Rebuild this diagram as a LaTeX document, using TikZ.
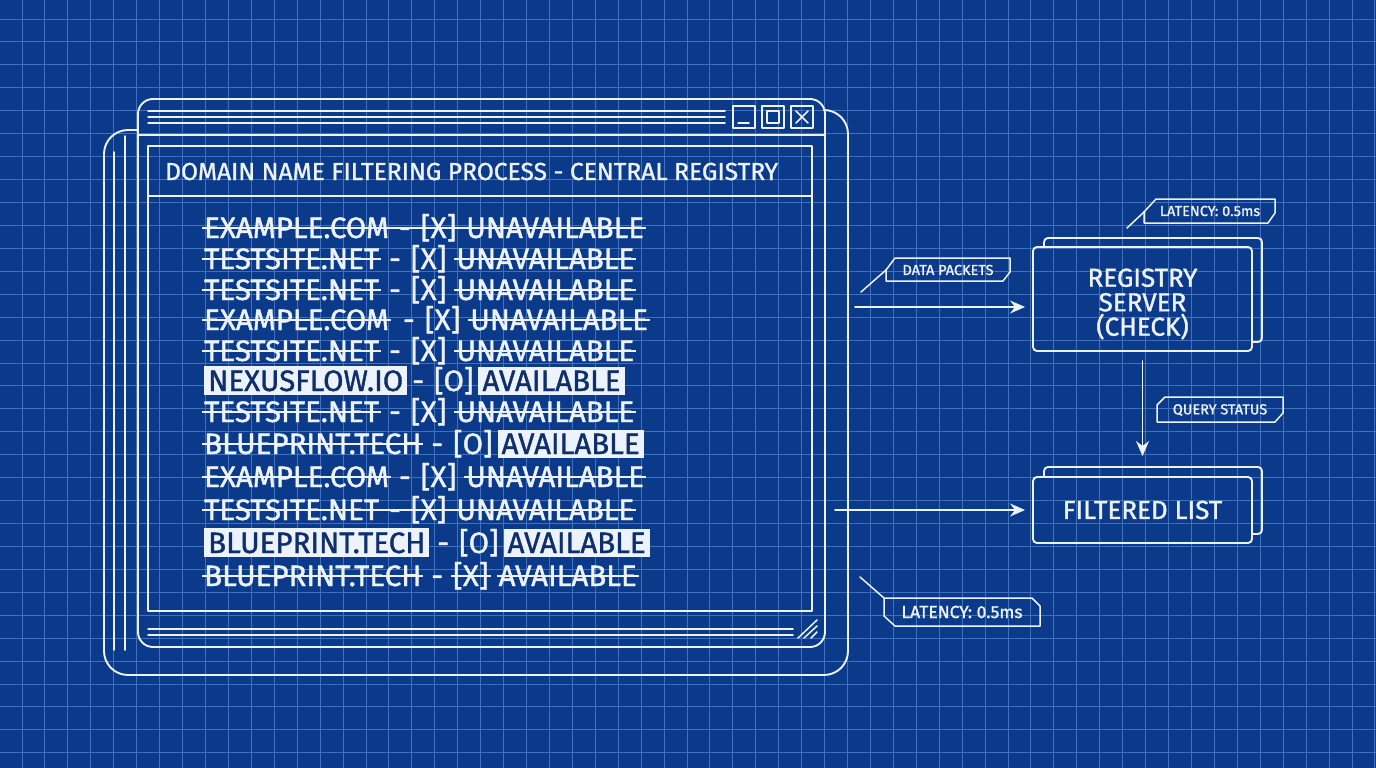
\documentclass[tikz,border=0pt]{standalone}
\usepackage{fontspec}
\setmainfont{Fira Sans}[FakeBold=1.2]
\usetikzlibrary{arrows.meta,calc}
\definecolor{bgblue}{RGB}{12,58,138}
\definecolor{gridblue}{RGB}{64,112,192}
\definecolor{ink}{RGB}{236,243,255}
\definecolor{darkink}{RGB}{14,46,108}
\newcommand\stk[1]{\setbox0=\hbox{#1}\rlap{\kern-2pt\color{ink}\rule[0.31em]{\dimexpr\wd0+4pt\relax}{1.9pt}}\box0\relax}
\newcommand\hlt[1]{{\fboxsep=4pt\colorbox{ink}{\color{darkink}#1}}}
\newcommand\sep{\hspace{10pt}}
\newcommand\hsep{\hspace{5pt}}
\begin{document}
\begin{tikzpicture}[x=1pt,y=-1pt,line join=round,line cap=round,
  wline/.style={draw=ink,line width=1.9pt},
  tline/.style={draw=ink,line width=1.5pt},
  gridline/.style={draw=gridblue,line width=0.9pt},
  arr/.style={draw=ink,line width=1.7pt,-{Stealth[length=15pt,width=13pt]}},
  rowtxt/.style={text=ink,font=\fontsize{29.5}{29.5}\selectfont,inner sep=0pt,anchor=base west},
  tagtxt/.style={text=ink,font=\fontsize{14.5}{14.5}\selectfont,inner sep=0pt},
  boxtxt/.style={text=ink,font=\fontsize{26}{24.5}\selectfont,align=center,inner sep=0pt},
  serverbox/.style={draw=ink,line width=1.9pt,rounded corners=4pt,minimum width=219pt,inner sep=0pt}
]
\useasboundingbox (0,0) rectangle (1376,768);
\fill[bgblue] (0,0) rectangle (1376,768);
% grid
\foreach \k in {-1,...,59} \draw[gridline] ({22+22.93*\k},0) -- ({22+22.93*\k},768);
\foreach \k in {-1,...,33} \draw[gridline] (0,{19+22.93*\k}) -- (1376,{19+22.93*\k});

% ---------- window ----------
\draw[wline,rounded corners=24pt] (138,130) -- (104,130) -- (104,675) -- (848,675) -- (848,110) -- (825,110);
\draw[tline] (114,152) -- (114,650);
\draw[tline] (125,136) -- (125,650);
\draw[wline,rounded corners=15pt] (138,99) rectangle (825,647);
\foreach \yy in {111,117,123} \draw[tline] (148,\yy) -- (725,\yy);
\draw[tline] (733,106) rectangle (755,128);
\draw[tline] (738,123) -- (749,123);
\draw[tline] (762,106) rectangle (784,128);
\draw[tline] (767,111) rectangle (779,123);
\draw[tline] (791,106) rectangle (813,128);
\draw[tline] (796,111) -- (808,123);
\draw[tline] (808,111) -- (796,123);
\draw[wline] (138,135) -- (825,135);
\draw[wline] (148,146) rectangle (812,611);
\draw[wline] (148,196) -- (812,196);
\draw[tline] (148,629) -- (793,629);
\draw[tline] (148,635) -- (793,635);
\draw[tline] (798,638) -- (817,620);
\draw[tline] (804,638) -- (817,626);
\draw[tline] (811,638) -- (817,632);

\node[anchor=base west,text=ink,font=\fontsize{24.6}{24.6}\selectfont,inner sep=0pt] (title) at (165,180) {DOMAIN NAME FILTERING PROCESS - CENTRAL REGISTRY};

% rows
\node[rowtxt] (r1) at (204,238) {\stk{EXAMPLE.COM\sep-\sep[X]\sep UNAVAILABLE}};
\node[rowtxt] (r2) at (204,269) {\stk{TESTSITE.NET}\sep-\sep[X]\sep\stk{UNAVAILABLE}};
\node[rowtxt] (r3) at (204,300) {\stk{TESTSITE.NET}\sep-\sep[X]\sep\stk{UNAVAILABLE}};
\node[rowtxt] (r4) at (204,330) {\stk{EXAMPLE.COM}\sep\hspace{4pt}-\sep[X]\sep\stk{UNAVAILABLE}};
\node[rowtxt] (r5) at (204,361) {\stk{TESTSITE.NET}\sep-\sep[X]\sep\stk{UNAVAILABLE}};
\node[rowtxt] (r6) at (204,391) {\hlt{NEXUSFLOW.IO}\hsep-\sep[O]\hsep\hlt{AVAILABLE}};
\node[rowtxt] (r7) at (204,422) {\stk{TESTSITE.NET}\sep-\sep[X]\sep\stk{UNAVAILABLE}};
\node[rowtxt] (r8) at (204,454) {\stk{BLUEPRINT.TECH}\sep-\sep[O]\hsep\hlt{AVAILABLE}};
\node[rowtxt] (r9) at (204,487) {\stk{EXAMPLE.COM}\sep-\sep[X]\sep\stk{UNAVAILABLE}};
\node[rowtxt] (r10) at (204,520) {\stk{TESTSITE.NET\sep-\sep[X]\sep UNAVAILABLE}};
\node[rowtxt] (r11) at (204,553) {\hlt{BLUEPRINT.TECH}\hsep\hspace{3pt}-\sep[O]\hsep\hlt{AVAILABLE}};
\node[rowtxt] (r12) at (204,586) {\stk{BLUEPRINT.TECH}\sep-\sep\stk{[X]}\sep\stk{AVAILABLE}};

% ---------- right side ----------
\draw[wline,rounded corners=4pt] (1044,247) -- (1044,238) -- (1262,238) -- (1262,342) -- (1252,342);
\node[serverbox,minimum height=104pt] (reg) at (1142.5,299) {};
\node[boxtxt] (regtxt) at (1142.5,304) {REGISTRY\\SERVER\\(CHECK)};
\draw[wline,rounded corners=4pt] (1044,477) -- (1044,467) -- (1262,467) -- (1262,534) -- (1252,534);
\node[serverbox,minimum height=66pt] (flt) at (1142.5,510) {};
\node[boxtxt,font=\fontsize{26}{26}\selectfont] (flttxt) at (1142.5,510) {FILTERED LIST};

% tags
\draw[tline] (1144,223) -- (1144,212) -- (1156,199) -- (1275,199) -- (1275,213) -- (1268,223) -- cycle;
\coordinate (lat1lead) at (1127,228);
\draw[tline] (lat1lead) -- (1144,212);
\node[tagtxt] (lat1) at (1210,211) {LATENCY: 0.5ms};

\draw[tline] (886,281) -- (886,270) -- (895,258) -- (1010,258) -- (1010,272) -- (1003,281) -- cycle;
\coordinate (dplead) at (861,292);
\draw[tline] (dplead) -- (886,270);
\node[tagtxt] (dp) at (948,270) {DATA PACKETS};

\draw[tline] (1157,422) -- (1157,405) -- (1165,397) -- (1283,397) -- (1283,413) -- (1275,422) -- cycle;
\node[tagtxt] (qs) at (1220,410) {QUERY STATUS};

\draw[tline] (884,598) -- (1032,598) -- (1040,606) -- (1040,626) -- (895,626) -- (884,616) -- cycle;
\coordinate (lat2lead) at (860,577);
\draw[tline] (lat2lead) -- (884,598);
\node[tagtxt,font=\fontsize{17.5}{17.5}\selectfont] (lat2) at (962,612) {LATENCY: 0.5ms};

% arrows
\coordinate (dpstart) at (855,307);
\draw[arr,shorten >=7pt] (dpstart) -- (dpstart -| reg.west);
\draw[arr,shorten <=9pt,shorten >=20pt] (reg.south) -- (flt.north);
\coordinate (flstart) at (835,510);
\draw[arr,shorten >=7pt] (flstart) -- (flt.west);
\end{tikzpicture}
\end{document}
